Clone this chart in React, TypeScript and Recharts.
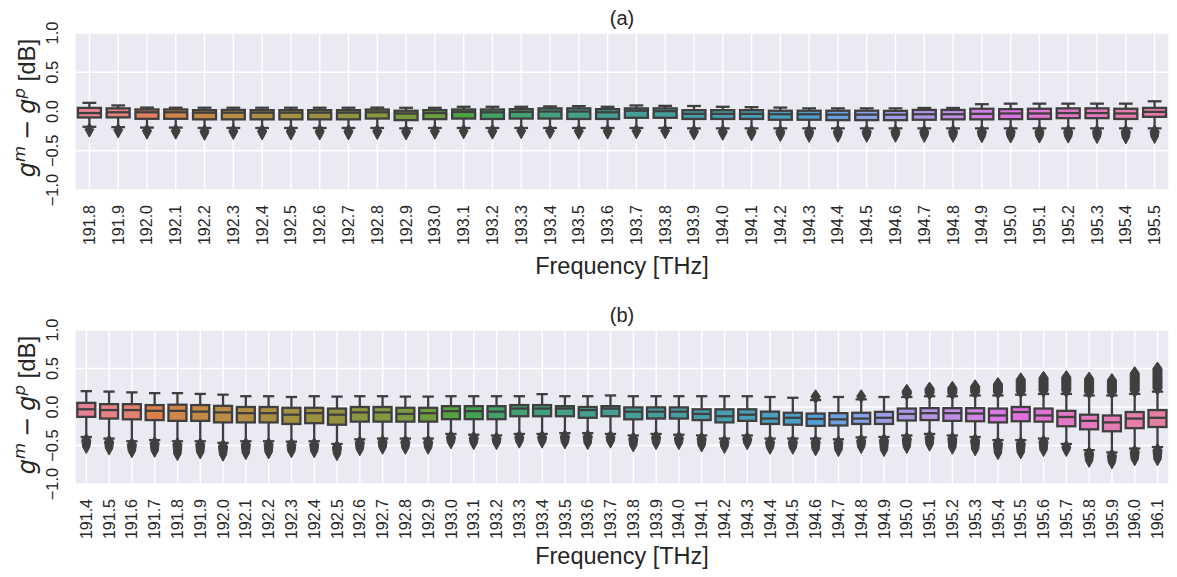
import React from 'react';
import { ComposedChart, Bar, XAxis, YAxis, CartesianGrid } from 'recharts';

// ---------------- DATA ----------------
const freqA = ['191.8','191.9','192.0','192.1','192.2','192.3','192.4','192.5','192.6','192.7','192.8','192.9','193.0','193.1','193.2','193.3','193.4','193.5','193.6','193.7','193.8','193.9','194.0','194.1','194.2','194.3','194.4','194.5','194.6','194.7','194.8','194.9','195.0','195.1','195.2','195.3','195.4','195.5'];
const aWhiHi = [0.11,0.077,0.05,0.048,0.048,0.048,0.048,0.048,0.048,0.048,0.05,0.047,0.047,0.06,0.06,0.06,0.065,0.068,0.06,0.077,0.072,0.07,0.06,0.055,0.05,0.04,0.04,0.04,0.04,0.045,0.045,0.093,0.1,0.1,0.1,0.1,0.1,0.13];
const aQ3 = [0.046,0.04,0.026,0.026,0.017,0.02,0.017,0.017,0.017,0.017,0.025,0.01,0.017,0.026,0.026,0.03,0.04,0.04,0.03,0.04,0.04,0.017,0.017,0.017,0.01,0.01,0.01,0.01,0.008,0.02,0.02,0.035,0.03,0.035,0.04,0.04,0.035,0.046];
const aMed = [-0.02,-0.01,-0.01,-0.01,-0.015,-0.015,-0.015,-0.015,-0.015,-0.015,-0.01,-0.025,-0.02,-0.005,-0.01,-0.005,0,0,-0.01,0.01,0.005,-0.03,-0.03,-0.03,-0.035,-0.035,-0.04,-0.04,-0.04,-0.035,-0.035,-0.03,-0.025,-0.025,-0.02,-0.02,-0.025,-0.005];
const aQ1 = [-0.076,-0.075,-0.093,-0.093,-0.1,-0.1,-0.1,-0.1,-0.1,-0.1,-0.09,-0.11,-0.097,-0.09,-0.095,-0.09,-0.09,-0.095,-0.095,-0.08,-0.08,-0.095,-0.095,-0.095,-0.105,-0.105,-0.11,-0.11,-0.11,-0.105,-0.1,-0.1,-0.097,-0.095,-0.085,-0.085,-0.095,-0.068];
const aWhiLo = [-0.195,-0.2,-0.205,-0.205,-0.21,-0.21,-0.21,-0.21,-0.21,-0.21,-0.21,-0.215,-0.21,-0.21,-0.21,-0.21,-0.21,-0.21,-0.21,-0.21,-0.21,-0.215,-0.215,-0.215,-0.215,-0.215,-0.215,-0.215,-0.215,-0.215,-0.215,-0.215,-0.215,-0.215,-0.215,-0.215,-0.215,-0.215];
const aOutLo = [-0.245,-0.255,-0.27,-0.27,-0.285,-0.275,-0.28,-0.28,-0.28,-0.28,-0.275,-0.28,-0.27,-0.265,-0.27,-0.265,-0.265,-0.27,-0.27,-0.265,-0.265,-0.28,-0.285,-0.29,-0.3,-0.31,-0.31,-0.31,-0.31,-0.31,-0.31,-0.315,-0.32,-0.32,-0.32,-0.325,-0.33,-0.325];
const aOutHi: (number | null)[] = freqA.map(() => null);

const freqB = ['191.4','191.5','191.6','191.7','191.8','191.9','192.0','192.1','192.2','192.3','192.4','192.5','192.6','192.7','192.8','192.9','193.0','193.1','193.2','193.3','193.4','193.5','193.6','193.7','193.8','193.9','194.0','194.1','194.2','194.3','194.4','194.5','194.6','194.7','194.8','194.9','195.0','195.1','195.2','195.3','195.4','195.5','195.6','195.7','195.8','195.9','196.0','196.1'];
const bWhiHi = [0.206,0.2,0.19,0.18,0.18,0.17,0.16,0.14,0.14,0.13,0.14,0.135,0.14,0.14,0.135,0.135,0.14,0.14,0.14,0.14,0.167,0.14,0.14,0.15,0.14,0.14,0.14,0.14,0.14,0.14,0.13,0.12,0.09,0.13,0.1,0.13,0.13,0.14,0.14,0.15,0.15,0.16,0.17,0.17,0.15,0.15,0.17,0.2];
const bQ3 = [0.054,0.037,0.037,0.025,0.03,0.025,0.015,0.0,0.0,-0.01,-0.01,-0.02,0.0,0.0,-0.01,-0.01,0.011,0.011,0.011,0.025,0.025,0.011,0.0,0.011,-0.005,-0.005,-0.005,-0.03,-0.03,-0.03,-0.06,-0.075,-0.085,-0.08,-0.075,-0.063,-0.02,-0.015,-0.015,-0.015,-0.02,0.0,-0.02,-0.05,-0.1,-0.11,-0.065,-0.04];
const bMed = [-0.03,-0.04,-0.04,-0.05,-0.05,-0.06,-0.07,-0.08,-0.08,-0.1,-0.08,-0.1,-0.07,-0.07,-0.09,-0.08,-0.054,-0.054,-0.06,-0.02,-0.02,-0.02,-0.04,-0.02,-0.06,-0.06,-0.06,-0.09,-0.12,-0.1,-0.15,-0.14,-0.155,-0.16,-0.15,-0.14,-0.09,-0.08,-0.08,-0.085,-0.11,-0.065,-0.11,-0.13,-0.18,-0.2,-0.15,-0.14];
const bQ1 = [-0.128,-0.15,-0.16,-0.17,-0.18,-0.18,-0.2,-0.2,-0.2,-0.22,-0.21,-0.23,-0.19,-0.19,-0.19,-0.19,-0.158,-0.158,-0.158,-0.12,-0.12,-0.12,-0.14,-0.12,-0.16,-0.15,-0.15,-0.17,-0.2,-0.18,-0.22,-0.23,-0.245,-0.24,-0.22,-0.22,-0.175,-0.17,-0.18,-0.185,-0.2,-0.185,-0.19,-0.25,-0.29,-0.315,-0.275,-0.26];
const bWhiLo = [-0.39,-0.41,-0.445,-0.43,-0.445,-0.445,-0.466,-0.445,-0.445,-0.45,-0.445,-0.48,-0.42,-0.41,-0.41,-0.41,-0.35,-0.36,-0.37,-0.35,-0.35,-0.34,-0.34,-0.35,-0.37,-0.35,-0.36,-0.37,-0.41,-0.37,-0.41,-0.41,-0.41,-0.42,-0.395,-0.39,-0.37,-0.35,-0.37,-0.39,-0.43,-0.43,-0.41,-0.48,-0.56,-0.59,-0.54,-0.52];
const bOutLo = [-0.52,-0.54,-0.575,-0.57,-0.613,-0.59,-0.62,-0.6,-0.59,-0.575,-0.575,-0.613,-0.55,-0.53,-0.53,-0.53,-0.46,-0.47,-0.47,-0.45,-0.45,-0.46,-0.47,-0.45,-0.5,-0.47,-0.47,-0.5,-0.52,-0.47,-0.53,-0.53,-0.55,-0.56,-0.52,-0.56,-0.52,-0.49,-0.53,-0.55,-0.6,-0.59,-0.56,-0.56,-0.7,-0.72,-0.68,-0.68];
const bOutHi: (number | null)[] = [null,null,null,null,null,null,null,null,null,null,null,null,null,null,null,null,null,null,null,null,null,null,null,null,null,null,null,null,null,null,null,null,0.14,null,0.14,null,0.21,0.24,0.25,0.27,0.3,0.36,0.38,0.39,0.37,0.35,0.44,0.5];

const yTickValues = [-1, -0.5, 0, 0.5, 1];
const yTickLabels = ['\u22121.0', '\u22120.5', '0.0', '0.5', '1.0'];

// ---------------- COLORS (seaborn husl palette, desaturated 0.75) ----------------
const M = [[3.2406, -1.5372, -0.4986], [-0.9689, 1.8758, 0.0415], [0.0557, -0.204, 1.057]];
const refU = 0.19784, refV = 0.46834;
const KAPPA = 903.2962962962963, EPS = 0.0088564516790356308;

function maxChroma(L: number, H: number) {
  const hrad = (H / 360) * Math.PI * 2;
  const sinH = Math.sin(hrad), cosH = Math.cos(hrad);
  const sub1 = Math.pow(L + 16, 3) / 1560896;
  const sub2 = sub1 > EPS ? sub1 : L / KAPPA;
  let result = Infinity;
  for (const [m1, m2, m3] of M) {
    const top = (0.99915 * m1 + 1.05122 * m2 + 1.1446 * m3) * sub2;
    const rb = 0.8633 * m3 - 0.17266 * m2;
    const lb = 0.12949 * m3 - 0.38848 * m1;
    const bottom = (rb * sinH + lb * cosH) * sub2;
    for (const t of [0, 1]) {
      const C = (L * (top - 1.05122 * t)) / (bottom + 0.17266 * sinH * t);
      if (C > 0 && C < result) result = C;
    }
  }
  return result;
}
function fromLinear(c: number) {
  return c <= 0.0031308 ? 12.92 * c : 1.055 * Math.pow(c, 1 / 2.4) - 0.055;
}
function huslToRgb(H: number, S: number, L: number): number[] {
  const C = (maxChroma(L, H) / 100) * S;
  const hrad = (H / 360) * Math.PI * 2;
  const U = C * Math.cos(hrad), V = C * Math.sin(hrad);
  const t = (L + 16) / 116;
  const varY = Math.pow(t, 3) > EPS ? Math.pow(t, 3) : (116 * t - 16) / KAPPA;
  const varU = U / (13 * L) + refU;
  const varV = V / (13 * L) + refV;
  const Y = varY;
  const X = 0 - (9 * Y * varU) / ((varU - 4) * varV - varU * varV);
  const Z = (9 * Y - 15 * varV * Y - varV * X) / (3 * varV);
  return M.map((r) => Math.min(1, Math.max(0, fromLinear(r[0] * X + r[1] * Y + r[2] * Z))));
}
function rgbToHls(r: number, g: number, b: number) {
  const maxc = Math.max(r, g, b), minc = Math.min(r, g, b);
  const l = (maxc + minc) / 2;
  if (maxc === minc) return [0, l, 0];
  const s = l <= 0.5 ? (maxc - minc) / (maxc + minc) : (maxc - minc) / (2 - maxc - minc);
  const rc = (maxc - r) / (maxc - minc), gc = (maxc - g) / (maxc - minc), bc = (maxc - b) / (maxc - minc);
  let h = r === maxc ? bc - gc : g === maxc ? 2 + rc - bc : 4 + gc - rc;
  h = ((h / 6) % 1 + 1) % 1;
  return [h, l, s];
}
function hv(m1: number, m2: number, hue: number) {
  hue = ((hue % 1) + 1) % 1;
  if (hue < 1 / 6) return m1 + (m2 - m1) * hue * 6;
  if (hue < 0.5) return m2;
  if (hue < 2 / 3) return m1 + (m2 - m1) * (2 / 3 - hue) * 6;
  return m1;
}
function hlsToRgb(h: number, l: number, s: number) {
  if (s === 0) return [l, l, l];
  const m2 = l <= 0.5 ? l * (1 + s) : l + s - l * s;
  const m1 = 2 * l - m2;
  return [hv(m1, m2, h + 1 / 3), hv(m1, m2, h), hv(m1, m2, h - 1 / 3)];
}
const toHex = (c: number[]) => '#' + c.map((v) => Math.round(v * 255).toString(16).padStart(2, '0')).join('');
function boxPalette(n: number) {
  const cols: number[][] = [];
  for (let i = 0; i < n; i++) {
    let h = i / n + 0.01;
    h = (h % 1) * 359;
    const rgb = huslToRgb(h, 0.9 * 99, 0.65 * 99);
    const [hh, ll, ss] = rgbToHls(rgb[0], rgb[1], rgb[2]);
    cols.push(hlsToRgb(hh, ll, ss * 0.75));
  }
  const lum = Math.min(...cols.map((c) => rgbToHls(c[0], c[1], c[2])[1])) * 0.6;
  return { colors: cols.map(toHex), gray: toHex([lum, lum, lum]) };
}

// ---------------- CHART PIECES ----------------
const FONT = '"Liberation Sans", Arial, sans-serif';
const TEXT = '#262626';
const W = 1177;
const LW = 2.3;

function buildRows(freq: string[], whiHi: number[], q3: number[], med: number[], q1: number[], whiLo: number[], outLo: (number | null)[], outHi: (number | null)[]) {
  return freq.map((f, i) => {
    const lo = Math.min(whiLo[i], outLo[i] ?? whiLo[i]);
    const hi = Math.max(whiHi[i], outHi[i] ?? whiHi[i]);
    return { freq: f, whiHi: whiHi[i], q3: q3[i], med: med[i], q1: q1[i], whiLo: whiLo[i], outLo: outLo[i], outHi: outHi[i], lo, hi, range: [lo, hi] };
  });
}

function makeBoxShape(colors: string[], gray: string) {
  return (props: any) => {
    const { x, y, width, height, payload, index } = props;
    if (!payload) return null;
    const top = height >= 0 ? y : y + height;
    const h = Math.abs(height);
    const span = payload.hi - payload.lo;
    const py = (v: number) => top + ((payload.hi - v) / span) * h;
    const cx = x + width / 2;
    const capHalf = width * 0.25;
    const hw = 4.5, hh = 6.5;
    const yQ3 = py(payload.q3), yQ1 = py(payload.q1);
    const parts: React.ReactNode[] = [];
    parts.push(<line key="wh" x1={cx} x2={cx} y1={yQ3} y2={py(payload.whiHi)} stroke={gray} strokeWidth={LW} />);
    parts.push(<line key="wl" x1={cx} x2={cx} y1={yQ1} y2={py(payload.whiLo)} stroke={gray} strokeWidth={LW} />);
    parts.push(<line key="ch" x1={cx - capHalf} x2={cx + capHalf} y1={py(payload.whiHi)} y2={py(payload.whiHi)} stroke={gray} strokeWidth={LW} strokeLinecap="square" />);
    parts.push(<line key="cl" x1={cx - capHalf} x2={cx + capHalf} y1={py(payload.whiLo)} y2={py(payload.whiLo)} stroke={gray} strokeWidth={LW} strokeLinecap="square" />);
    parts.push(<rect key="box" x={x} y={yQ3} width={width} height={Math.max(0.5, yQ1 - yQ3)} fill={colors[index % colors.length]} stroke={gray} strokeWidth={LW} />);
    parts.push(<line key="med" x1={x} x2={x + width} y1={py(payload.med)} y2={py(payload.med)} stroke={gray} strokeWidth={LW} />);
    if (payload.outLo != null) {
      const yS = py(payload.whiLo) + 3;
      const yE = Math.max(yS, py(payload.outLo));
      const d = `M${cx},${yS - hh} L${cx + hw},${yS} L${cx + hw * 0.8},${yE} L${cx},${yE + hh} L${cx - hw * 0.8},${yE} L${cx - hw},${yS} Z`;
      parts.push(<path key="fl" d={d} fill={gray} stroke={gray} strokeWidth={1} strokeLinejoin="round" />);
    }
    if (payload.outHi != null) {
      const yS = py(payload.whiHi) - 3;
      const yE = Math.min(yS, py(payload.outHi));
      const d = `M${cx},${yS + hh} L${cx + hw},${yS} L${cx + hw},${yE} L${cx},${yE - hh} L${cx - hw},${yE} L${cx - hw},${yS} Z`;
      parts.push(<path key="fh" d={d} fill={gray} stroke={gray} strokeWidth={1} strokeLinejoin="round" />);
    }
    return <g>{parts}</g>;
  };
}

const XTick = (props: any) => {
  const { x, y, payload } = props;
  return (
    <text transform={`translate(${x},${y + 15}) rotate(-90)`} textAnchor="end" dominantBaseline="central" fontSize={16} fontFamily={FONT} fill={TEXT}>
      {payload.value}
    </text>
  );
};
const YTick = (props: any) => {
  const { x, y, payload } = props;
  const idx = yTickValues.indexOf(payload.value);
  return (
    <text transform={`translate(${x - 23.5},${y}) rotate(-90)`} textAnchor="middle" dominantBaseline="central" fontSize={16.5} fontFamily={FONT} fill={TEXT}>
      {idx >= 0 ? yTickLabels[idx] : String(payload.value)}
    </text>
  );
};

type PanelProps = { rows: any[]; colors: string[]; gray: string; height: number; top: number; xAxisHeight: number };
function Panel({ rows, colors, gray, height, top, xAxisHeight }: PanelProps) {
  const shape = React.useMemo(() => makeBoxShape(colors, gray), [colors, gray]);
  return (
    <ComposedChart width={W} height={height} data={rows} margin={{ top, right: 8, bottom: 0, left: 0 }} barCategoryGap="10%">
      <CartesianGrid fill="#EAEAF2" fillOpacity={1} stroke="#FFFFFF" strokeWidth={1.4} />
      <XAxis dataKey="freq" type="category" interval={0} height={xAxisHeight} axisLine={false} tickLine={false} tickSize={0} tickMargin={0} tick={<XTick />} />
      <YAxis type="number" domain={[-1, 1]} ticks={yTickValues} width={75} axisLine={false} tickLine={false} tickSize={0} tickMargin={0} tick={<YTick />} allowDataOverflow />
      <Bar dataKey="range" shape={shape} isAnimationActive={false} />
    </ComposedChart>
  );
}

function YLabel({ cx, cy }: { cx: number; cy: number }) {
  const math = '"DejaVu Sans", sans-serif';
  return (
    <text transform={`translate(${cx},${cy}) rotate(-90)`} textAnchor="middle" fontSize={24} fill={TEXT} fontFamily={FONT}>
      <tspan fontFamily={math} fontStyle="italic">g</tspan>
      <tspan fontFamily={math} fontStyle="italic" fontSize={16.5} dy={-10}>m</tspan>
      <tspan fontFamily={math} dy={10}>{'\u2005\u2212\u2005'}</tspan>
      <tspan fontFamily={math} fontStyle="italic">g</tspan>
      <tspan fontFamily={math} fontStyle="italic" fontSize={16.5} dy={-10}>p</tspan>
      <tspan dy={10}>{' [dB]'}</tspan>
    </text>
  );
}

export default function App() {
  const palA = React.useMemo(() => boxPalette(freqA.length), []);
  const palB = React.useMemo(() => boxPalette(freqB.length), []);
  const rowsA = React.useMemo(() => buildRows(freqA, aWhiHi, aQ3, aMed, aQ1, aWhiLo, aOutLo, aOutHi), []);
  const rowsB = React.useMemo(() => buildRows(freqB, bWhiHi, bQ3, bMed, bQ1, bWhiLo, bOutLo, bOutHi), []);
  const plotCx = (75 + (W - 8)) / 2;
  return (
    <div style={{ position: 'absolute', left: 0, top: 0, width: W, height: 577, background: '#fff' }}>
      <div style={{ position: 'absolute', left: 0, top: 0 }}>
        <Panel rows={rowsA} colors={palA.colors} gray={palA.gray} height={290} top={33} xAxisHeight={100} />
      </div>
      <div style={{ position: 'absolute', left: 0, top: 290 }}>
        <Panel rows={rowsB} colors={palB.colors} gray={palB.gray} height={287} top={40} xAxisHeight={93} />
      </div>
      <svg width={W} height={577} style={{ position: 'absolute', left: 0, top: 0, pointerEvents: 'none' }}>
        <text x={plotCx} y={25} textAnchor="middle" fontSize={20} fontFamily={FONT} fill={TEXT}>(a)</text>
        <text x={plotCx} y={322} textAnchor="middle" fontSize={20} fontFamily={FONT} fill={TEXT}>(b)</text>
        <text x={plotCx} y={274} textAnchor="middle" fontSize={23.5} fontFamily={FONT} fill={TEXT}>Frequency [THz]</text>
        <text x={plotCx} y={564} textAnchor="middle" fontSize={23.5} fontFamily={FONT} fill={TEXT}>Frequency [THz]</text>
        <YLabel cx={35} cy={108} />
        <YLabel cx={35} cy={405} />
      </svg>
    </div>
  );
}
